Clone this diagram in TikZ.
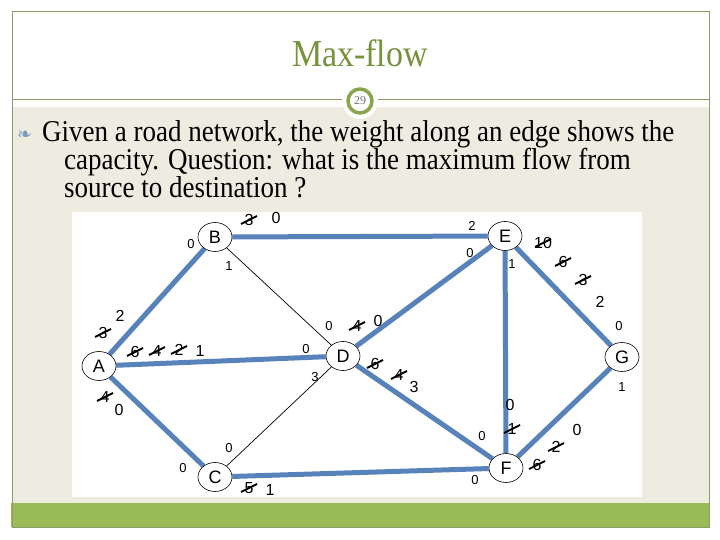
\documentclass[tikz,border=0pt]{standalone}
\usepackage{fontspec}
\setmainfont{Liberation Serif}
\newfontfamily\arialf{Liberation Sans}
\newfontfamily\symf{DejaVu Sans}
\usetikzlibrary{shapes.geometric}
\definecolor{framec}{RGB}{140,156,104}
\definecolor{beige}{RGB}{238,236,225}
\definecolor{greenbar}{RGB}{155,187,89}
\definecolor{titlec}{RGB}{118,146,60}
\definecolor{circc}{RGB}{138,166,76}
\definecolor{edgeblue}{RGB}{88,131,186}
\definecolor{bulletc}{RGB}{122,155,190}
\pgfdeclarelayer{back}
\pgfdeclarelayer{edges}
\pgfsetlayers{back,edges,main}
\newcommand\xo[3]{\node[bg] (#1) at (#2) {#3};
  \draw[slash] ([shift={(-8,4)}]#1.center) -- ([shift={(8,-4)}]#1.center);}
\newcommand\tallt[1]{\scalebox{1}[1.12]{#1}}
\begin{document}
\begin{tikzpicture}[x=1pt,y=-1pt,
  vtx/.style={ellipse,draw=black,line width=0.6pt,fill=white,minimum width=34pt,minimum height=29pt,inner sep=0pt,font=\arialf\fontsize{18}{18}\selectfont},
  thick edge/.style={line width=5pt,draw=edgeblue},
  thin edge/.style={line width=0.7pt,draw=black},
  sm/.style={inner sep=0pt,font=\arialf\fontsize{13}{13}\selectfont},
  bg/.style={inner sep=0pt,font=\arialf\fontsize{16}{16}\selectfont},
  slash/.style={line width=1.8pt,black},
  body/.style={anchor=base west,inner sep=0pt,font=\fontsize{27}{27}\selectfont}]
\useasboundingbox (0,0) rectangle (720,540);
\begin{pgfonlayer}{back}
\fill[white] (0,0) rectangle (720,540);
\fill[beige] (12,107) rectangle (709,503);
\fill[greenbar] (11,503) rectangle (709,527);
\draw[framec,line width=1pt] (12,12) rectangle (709,527);
\draw[framec,line width=1pt] (12,100) -- (709,100);
\fill[white] (72,212) rectangle (642,497);
\fill[white] (360,101) circle (18);
\end{pgfonlayer}
% page number and title
\node[circle,draw=circc,line width=3.5pt,fill=white,minimum size=24pt,inner sep=0pt,text=black!55,font=\fontsize{12}{12}\selectfont] (pg) at (360,101) {29};
\node[text=titlec,font=\fontsize{34}{34}\selectfont,inner sep=0pt,anchor=base] (ttl) at (360,67) {\tallt{Max-flow}};
% body text
\node[anchor=base west,inner sep=0pt,text=bulletc,font=\symf\fontsize{18}{18}\selectfont] (bul) at (17,141) {❧};
\node[body] (b1) at (42,142) {\tallt{Given a road network, the weight along an edge shows the}};
\node[body] (b2) at (64,170) {\tallt{capacity. Question: what is the maximum flow from}};
\node[body] (b3) at (64,198) {\tallt{source to destination ?}};
% vertices
\node[vtx] (B) at (215,237) {B};
\node[vtx] (E) at (505,236) {E};
\node[vtx] (A) at (99,366) {A};
\node[vtx] (D) at (343,356) {D};
\node[vtx] (G) at (622,357) {G};
\node[vtx] (C) at (215,477) {C};
\node[vtx] (F) at (506,468) {F};
% edges
\begin{pgfonlayer}{edges}
\draw[thick edge] (A) -- (B);
\draw[thick edge] (B) -- (E);
\draw[thin edge] (B) -- (D);
\draw[thick edge] (A) -- (D);
\draw[thick edge] (A) -- (C);
\draw[thin edge] (C) -- (D);
\draw[thick edge] (C) -- (F);
\draw[thick edge] (D) -- (E);
\draw[thick edge] (D) -- (F);
\draw[thick edge] (E) -- (F);
\draw[thick edge] (E) -- (G);
\draw[thick edge] (F) -- (G);
\end{pgfonlayer}
% small residual labels
\node[sm] (s1) at (191,244) {0};
\node[sm] (s2) at (229,266) {1};
\node[sm] (s3) at (329,326) {0};
\node[sm] (s4) at (306,349) {0};
\node[sm] (s5) at (315,377) {3};
\node[sm] (s6) at (229,448) {0};
\node[sm] (s7) at (183,468) {0};
\node[sm] (s8) at (472,226) {2};
\node[sm] (s9) at (470,253) {0};
\node[sm] (s10) at (512,264) {1};
\node[sm] (s11) at (619,326) {0};
\node[sm] (s12) at (622,387) {1};
\node[sm] (s13) at (482,436) {0};
\node[sm] (s14) at (475,480) {0};
% capacity labels (struck and current)
\xo{be1}{249,220}{3}
\node[bg] (be2) at (276,218) {0};
\xo{ab1}{103,333}{3}
\node[bg] (ab2) at (120,316) {2};
\xo{ad1}{135,352}{6}
\xo{ad2}{157,351}{4}
\xo{ad3}{179,350}{2}
\node[bg] (ad4) at (200,351) {1};
\xo{ac1}{105,397}{4}
\node[bg] (ac2) at (119,410) {0};
\xo{cf1}{249,488}{5}
\node[bg] (cf2) at (270,490) {1};
\xo{de1}{357,326}{4}
\node[bg] (de2) at (378,321) {0};
\xo{df1}{375,364}{6}
\xo{df2}{399,375}{4}
\node[bg] (df3) at (414,387) {3};
\xo{eg1}{543,243}{10}
\xo{eg2}{563,262}{6}
\xo{eg3}{583,280}{3}
\node[bg] (eg4) at (600,302) {2};
\node[bg] (ef1) at (510,405) {0};
\xo{ef2}{512,429}{1}
\node[bg] (fg1) at (577,430) {0};
\xo{fg2}{556,447}{2}
\xo{fg3}{537,465}{6}
\end{tikzpicture}
\end{document}
